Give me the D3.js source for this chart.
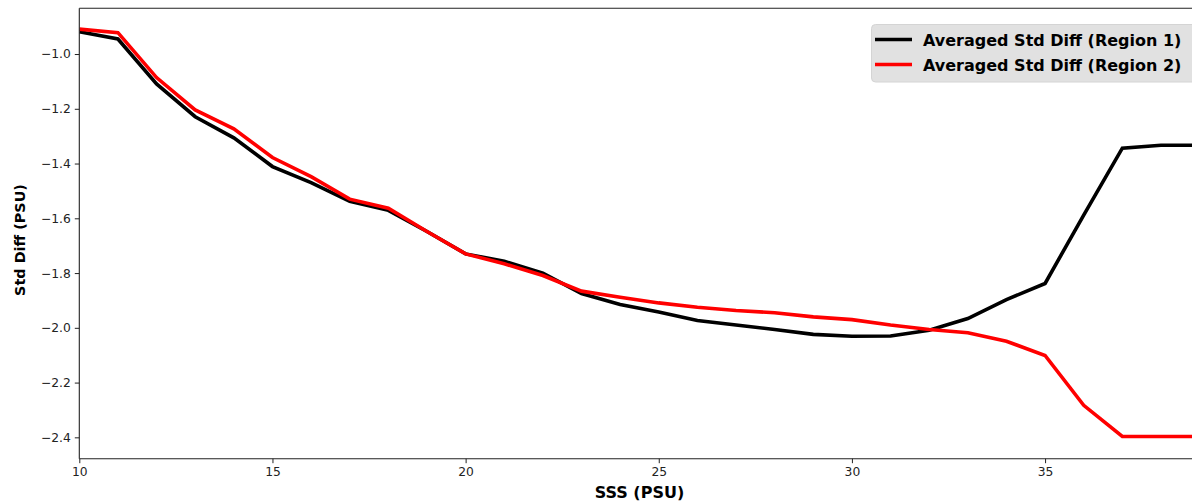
<!DOCTYPE html>
<html>
<head>
<meta charset="utf-8">
<script src="https://cdn.jsdelivr.net/npm/d3@7"></script>
<style>
  html, body { margin: 0; padding: 0; background: #fff; }
  svg { display: block; }
</style>
</head>
<body>
<svg id="chart" width="1192" height="502"></svg>
<script>
// ---- data ----
const sss = [10,11,12,13,14,15,16,17,18,19,20,21,22,23,24,25,26,27,28,29,30,31,32,33,34,35,36,37,38,39];
const region1 = [-0.919,-0.945,-1.109,-1.229,-1.306,-1.411,-1.470,-1.538,-1.571,-1.648,-1.730,-1.757,-1.800,-1.875,-1.915,-1.942,-1.973,-1.990,-2.006,-2.024,-2.031,-2.030,-2.009,-1.966,-1.897,-1.838,-1.588,-1.344,-1.333,-1.333];
const region2 = [-0.909,-0.922,-1.086,-1.204,-1.273,-1.378,-1.448,-1.530,-1.563,-1.648,-1.730,-1.766,-1.809,-1.866,-1.888,-1.909,-1.925,-1.937,-1.945,-1.960,-1.970,-1.990,-2.006,-2.018,-2.049,-2.101,-2.283,-2.397,-2.397,-2.397];
const xTicks = [10,15,20,25,30,35];
const yTicks = [-1.0,-1.2,-1.4,-1.6,-1.8,-2.0,-2.2,-2.4];
const seriesNames = ["Averaged Std Diff (Region 1)", "Averaged Std Diff (Region 2)"];
const seriesColors = ["#000000", "#ff0000"];

// ---- layout ----
const svg = d3.select("#chart");
const mLeft = 79.3, mRight = 1199.6, mTop = 8.3, mBottom = 458.7;

const x = d3.scaleLinear().domain([10, 39]).range([mLeft, mRight]);
const y = d3.scaleLinear().domain([-0.833, -2.478]).range([mTop, mBottom]);

svg.append("defs").append("clipPath").attr("id", "plotclip")
  .append("rect").attr("x", mLeft).attr("y", mTop).attr("width", mRight - mLeft).attr("height", mBottom - mTop);

// lines
const line = d3.line().x(d => x(d[0])).y(d => y(d[1]));
const series = [region1, region2];
const g = svg.append("g").attr("clip-path", "url(#plotclip)");
series.forEach((vals, i) => {
  g.append("path")
    .datum(sss.map((s, j) => [s, vals[j]]))
    .attr("d", line)
    .attr("fill", "none")
    .attr("stroke", seriesColors[i])
    .attr("stroke-width", 3.6)
    .attr("stroke-linejoin", "miter")
    .attr("stroke-linecap", "butt");
});

// axes
const yAxis = d3.axisLeft(y).tickValues(yTicks).tickSize(4.5).tickPadding(4)
  .tickFormat(d => d3.format(".1f")(d).replace("-", "\u2212"));
const yg = svg.append("g").attr("transform", `translate(${mLeft},0)`).call(yAxis);
yg.select(".domain").remove();
yg.selectAll(".tick line").attr("stroke", "#222").attr("stroke-width", 1);
yg.selectAll(".tick text").attr("fill", "#222").style("font-family", "DejaVu Sans").style("font-size", "12.3px");

const xAxis = d3.axisBottom(x).tickValues(xTicks).tickSize(4.5).tickPadding(4)
  .tickFormat(d3.format("d"));
const xg = svg.append("g").attr("transform", `translate(0,${mBottom})`).call(xAxis);
xg.select(".domain").remove();
xg.selectAll(".tick line").attr("stroke", "#222").attr("stroke-width", 1);
xg.selectAll(".tick text").attr("fill", "#222").style("font-family", "DejaVu Sans").style("font-size", "12.3px");

// spines
const spine = svg.append("g").attr("stroke", "#222").attr("stroke-width", 1.1).attr("fill", "none");
spine.append("line").attr("x1", mLeft).attr("x2", mLeft).attr("y1", mTop).attr("y2", mBottom);
spine.append("line").attr("x1", mLeft).attr("x2", mRight).attr("y1", mBottom).attr("y2", mBottom);
spine.append("line").attr("x1", mLeft).attr("x2", mRight).attr("y1", mTop).attr("y2", mTop);
spine.append("line").attr("x1", mRight).attr("x2", mRight).attr("y1", mTop).attr("y2", mBottom);

// axis labels
svg.append("text")
  .attr("x", (mLeft + mRight) / 2).attr("y", 497.5)
  .attr("text-anchor", "middle")
  .style("font-family", "DejaVu Sans")
  .style("font-weight", "bold")
  .style("font-size", "16px")
  .attr("fill", "#000")
  .text("SSS (PSU)");

svg.append("text")
  .attr("transform", `translate(25,240) rotate(-90)`)
  .attr("text-anchor", "middle")
  .style("font-family", "DejaVu Sans")
  .style("font-weight", "bold")
  .style("font-size", "14.4px")
  .attr("fill", "#000")
  .text("Std Diff (PSU)");

// legend
const lg = svg.append("g");
lg.append("rect")
  .attr("x", 871.5).attr("y", 24.5).attr("width", 330).attr("height", 57.5)
  .attr("rx", 4).attr("ry", 4)
  .attr("fill", "#e1e1e1").attr("stroke", "#d4d4d4").attr("stroke-width", 1);
seriesNames.forEach((name, i) => {
  const yy = 39.5 + i * 25;
  lg.append("line").attr("x1", 875).attr("x2", 912).attr("y1", yy).attr("y2", yy)
    .attr("stroke", seriesColors[i]).attr("stroke-width", 3.6);
  lg.append("text").attr("x", 923).attr("y", yy + 6.3)
    .style("font-family", "DejaVu Sans").style("font-weight", "bold").style("font-size", "16px")
    .attr("fill", "#000").text(name);
});
</script>
</body>
</html>
